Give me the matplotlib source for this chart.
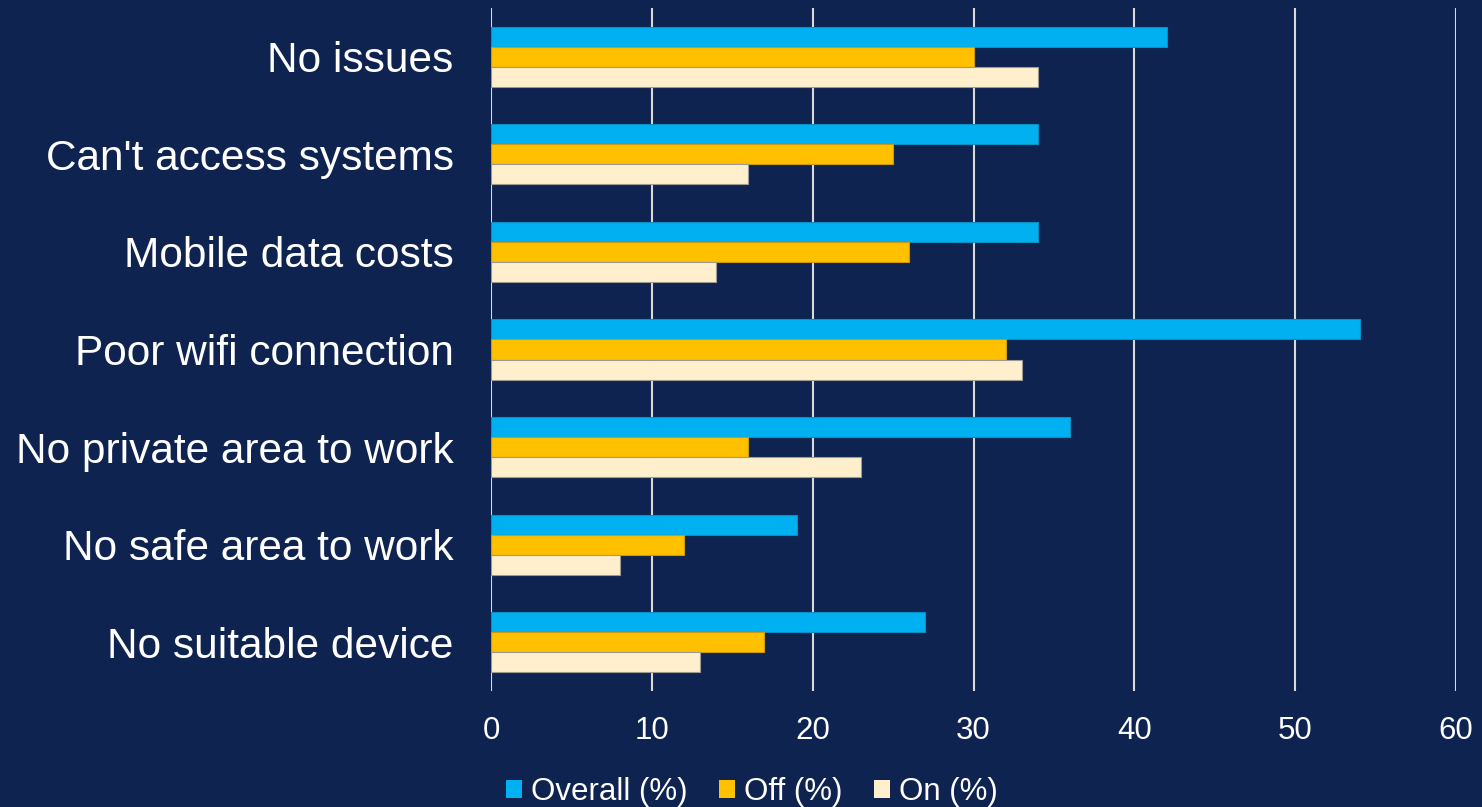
import numpy as np
import matplotlib
matplotlib.use("Agg")
import matplotlib.pyplot as plt
from matplotlib.patches import Patch

plt.rcParams['font.family'] = ['Liberation Sans', 'DejaVu Sans']

categories = [
    "No issues",
    "Can't access systems",
    "Mobile data costs",
    "Poor wifi connection",
    "No private area to work",
    "No safe area to work",
    "No suitable device",
]
overall = [42, 34, 34, 54, 36, 19, 27]
off = [30, 25, 26, 32, 16, 12, 17]
on = [34, 16, 14, 33, 23, 8, 13]
series_names = ["Overall (%)", "Off (%)", "On (%)"]
x_ticks = [0, 10, 20, 30, 40, 50, 60]

bg = "#0F2350"
colors = ["#00B0F0", "#FFC000", "#FFEFCC"]
edges = ["#0A8FC4", "#C99A10", "#9C9A92"]

fig = plt.figure(figsize=(14.82, 8.07), dpi=100, facecolor=bg)
ax = fig.add_axes([491 / 1482, 1 - 691 / 807, (1456 - 491) / 1482, (691 - 8) / 807])
ax.set_facecolor(bg)

n = len(categories)
y = np.arange(n)
h = 0.205
for i, (vals, c, ec, name) in enumerate(zip([overall, off, on], colors, edges, series_names)):
    ax.barh(y + (i - 1) * h, vals, height=h, color=c, edgecolor=ec,
            linewidth=0.8, label=name, zorder=3)

ax.set_ylim(n - 0.5, -0.5)
ax.set_xlim(0, 60)
ax.set_xticks(x_ticks)
ax.set_xticklabels([str(t) for t in x_ticks])
ax.set_yticks(y)
ax.set_yticklabels(categories)

ax.grid(axis="x", color="#D9D9D9", linewidth=1.5, zorder=0)
ax.tick_params(axis="x", length=0, pad=18, labelsize=22.5, labelcolor="white")
ax.tick_params(axis="y", length=0, pad=27, labelsize=30.5, labelcolor="white")
for s in ax.spines.values():
    s.set_visible(False)

handles = [Patch(facecolor=c, edgecolor="none") for c in colors]
leg = fig.legend(handles, series_names, loc="center", bbox_to_anchor=(752 / 1482, 1 - 792 / 807),
                 ncol=3, frameon=False, fontsize=22.5, handlelength=0.52, handleheight=0.52,
                 handletextpad=0.29, columnspacing=1.0, labelcolor="white",
                 borderaxespad=0, borderpad=0)

fig.savefig("out.png", dpi=100, facecolor=bg)
